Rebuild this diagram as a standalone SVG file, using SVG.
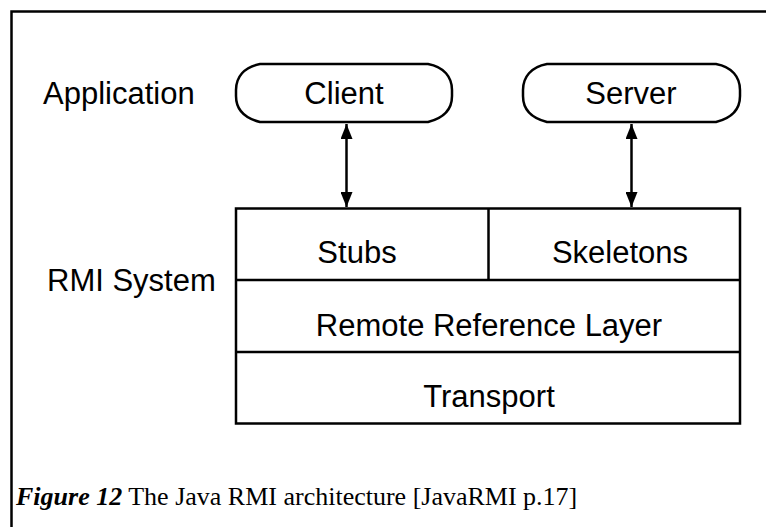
<svg xmlns="http://www.w3.org/2000/svg" width="766" height="527" viewBox="0 0 766 527">
<style>
.ln{fill:none;stroke:#000;stroke-width:2.5}
.lbl{font-family:"Liberation Sans",Arial,sans-serif;font-size:31px;fill:#000}
.cap{font-family:"Liberation Serif","Times New Roman",serif;font-size:26px;fill:#000}
</style>
<defs>
<marker id="ah" viewBox="0 0 15 12" refX="15" refY="6" markerWidth="15" markerHeight="12" markerUnits="userSpaceOnUse" orient="auto-start-reverse">
<path d="M0,0 L15,6 L0,12 Z" fill="#000"/>
</marker>
</defs>
<rect width="766" height="527" fill="#fff"/>
<g id="frame">
<path class="ln" d="M11.5,527 V11.5 H766"/>
</g>
<g id="application-label"><text class="lbl" x="43" y="104">Application</text></g>
<g id="rmi-label"><text class="lbl" x="47" y="291">RMI System</text></g>
<g id="client">
<path class="ln" d="M260,64 H428 C444,67 452,77 452,90 V96 C452,110 444,118 428,122 H260 C244,118 236,110 236,96 V90 C236,77 244,67 260,64 Z"/>
<text class="lbl" x="344" y="104" text-anchor="middle">Client</text>
</g>
<g id="server">
<path class="ln" d="M547,64 H716 C732,67 740,77 740,90 V96 C740,110 732,118 716,122 H547 C531,118 523,110 523,96 V90 C523,77 531,67 547,64 Z"/>
<text class="lbl" x="631" y="104" text-anchor="middle">Server</text>
</g>
<g id="rmi-system">
<rect class="ln" x="236" y="208.5" width="504" height="215"/>
<path class="ln" d="M236,280 H740 M236,352 H740 M488.5,208.5 V280"/>
</g>
<g id="stubs"><text class="lbl" x="357" y="263" text-anchor="middle">Stubs</text></g>
<g id="skeletons"><text class="lbl" x="620" y="263" text-anchor="middle">Skeletons</text></g>
<g id="remote-reference-layer"><text class="lbl" x="489" y="336" text-anchor="middle">Remote Reference Layer</text></g>
<g id="transport"><text class="lbl" x="489" y="407" text-anchor="middle">Transport</text></g>
<g id="connectors">
<line class="ln" x1="346.5" y1="124" x2="346.5" y2="207" marker-start="url(#ah)" marker-end="url(#ah)"/>
<line class="ln" x1="631.5" y1="124" x2="631.5" y2="207" marker-start="url(#ah)" marker-end="url(#ah)"/>
</g>
<g id="caption">
<text class="cap" x="16" y="505"><tspan font-weight="bold" font-style="italic">Figure 12</tspan> The Java RMI architecture [JavaRMI p.17]</text>
</g>
</svg>
